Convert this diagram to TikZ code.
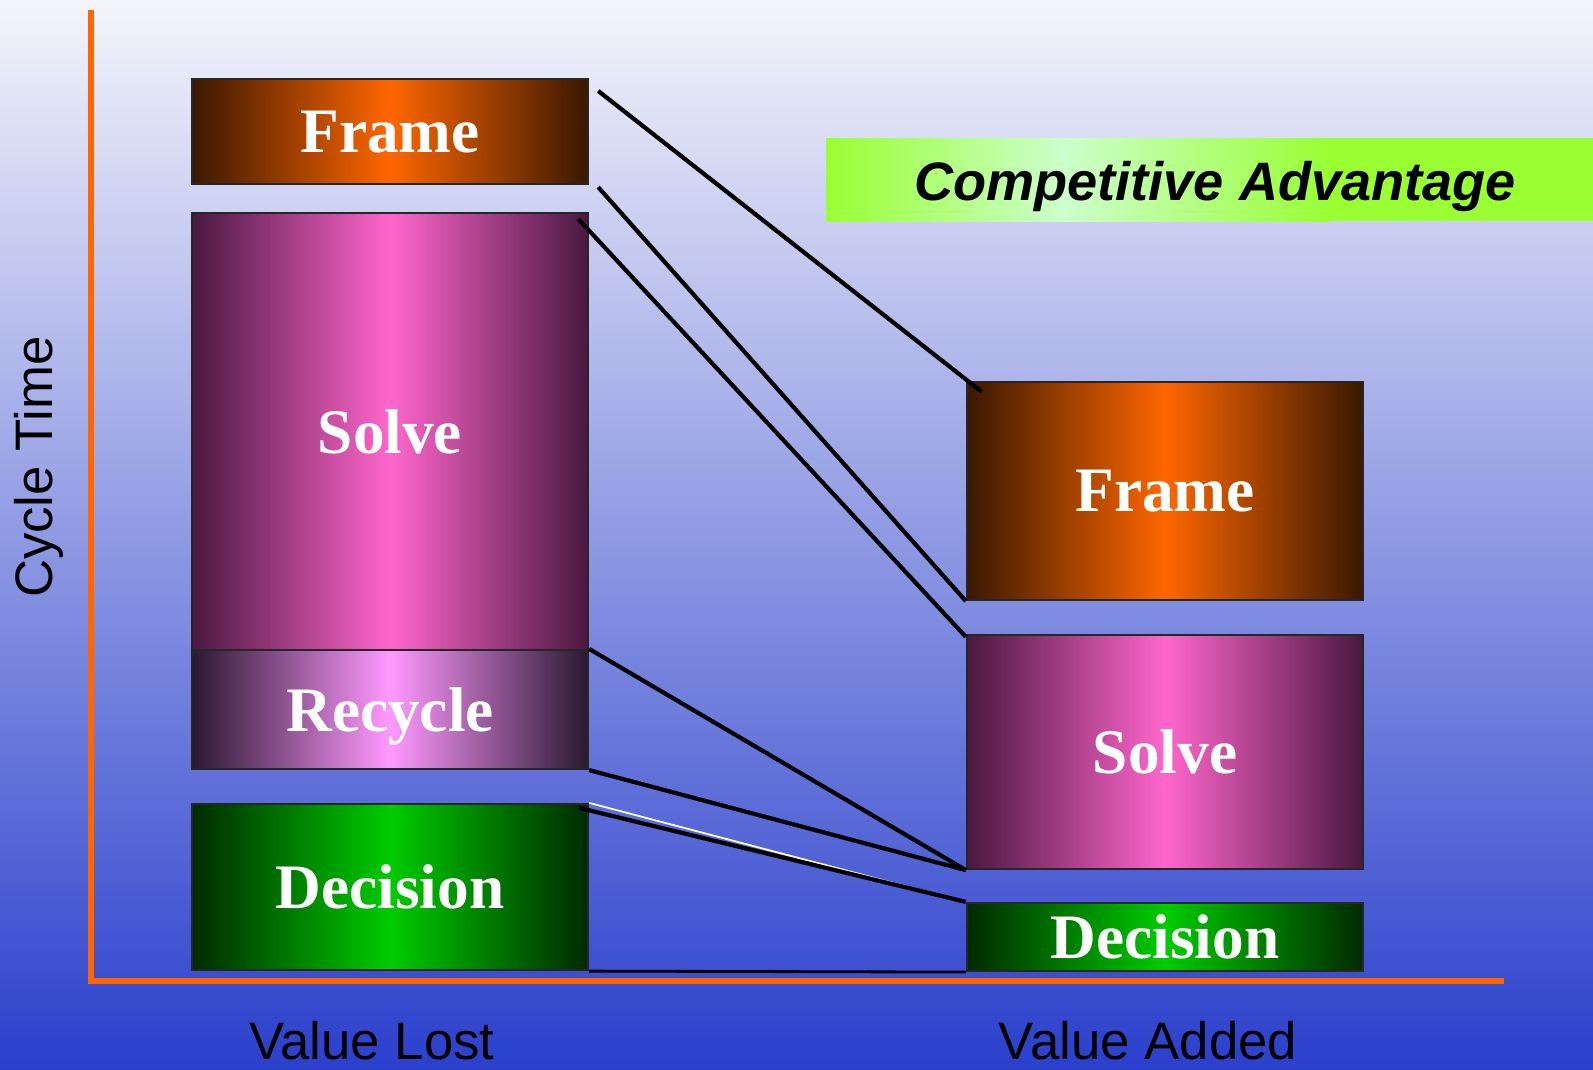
\documentclass[tikz,border=0pt]{standalone}
\usepackage{fontspec}
\setmainfont{Liberation Serif}
\setsansfont{Liberation Sans}
\usetikzlibrary{calc,positioning}

\definecolor{bgtop}{HTML}{F4F5FB}
\definecolor{bgmid}{HTML}{9BA0E0}
\definecolor{bgbot}{HTML}{2A3FCC}
\definecolor{axisorange}{HTML}{FF6600}
\definecolor{frameedge}{HTML}{3A1800}
\definecolor{framemid}{HTML}{FF6600}
\definecolor{solveedge}{HTML}{4A1840}
\definecolor{solvemid}{HTML}{FF66CC}
\definecolor{recycleedge}{HTML}{2A1830}
\definecolor{recyclemid}{HTML}{FF99FF}
\definecolor{decedge}{HTML}{002A00}
\definecolor{decmid}{HTML}{00CC00}
\definecolor{lime}{HTML}{99FF33}
\definecolor{palegreen}{HTML}{CCFFCC}

\begin{document}
\begin{tikzpicture}[x=0.01cm,y=-0.01cm,thick]
    \tikzstyle{box}=[draw=black!85, line width=0.6pt, minimum width=3.96cm, inner sep=0pt, text depth=0pt, text=white, font=\bfseries\fontsize{18}{18}\selectfont]
    \tikzstyle{framebox}=[box, left color=frameedge, right color=frameedge, middle color=framemid]
    \tikzstyle{solvebox}=[box, left color=solveedge, right color=solveedge, middle color=solvemid]
    \tikzstyle{recyclebox}=[box, left color=recycleedge, right color=recycleedge, middle color=recyclemid]
    \tikzstyle{decbox}=[box, left color=decedge, right color=decedge, middle color=decmid]
    \tikzstyle{link}=[line width=1.2pt, black]
    \tikzstyle{axis}=[line width=1.7pt, axisorange]
    \tikzstyle{axislabel}=[font=\sffamily\fontsize{15}{15}\selectfont]

    \useasboundingbox (0,0) rectangle (1593,1069);
    \shade[top color=bgtop, middle color=bgmid, bottom color=bgbot] (0,0) rectangle (1593,1069);

    \shade[left color=lime, right color=palegreen] (826,138) rectangle (1065,221);
    \shade[left color=palegreen, right color=lime] (1065,138) rectangle (1330,221);
    \fill[lime] (1330,138) rectangle (1593,221);
    \node[font=\sffamily\bfseries\itshape\fontsize{15.4}{15.4}\selectfont, anchor=base] (advantage) at (1215,200) {Competitive Advantage};

    \draw[axis] (91,10) -- (91,982);
    \draw[axis] (88,981) -- (1504,981);

    \node[axislabel, rotate=90] (cycle) at (39,467) {Cycle Time};
    \node[axislabel, anchor=base] (lost) at (372,1059) {Value Lost};
    \node[axislabel, anchor=base] (added) at (1148,1059) {Value Added};

    \node[framebox, minimum height=1.05cm]   (frameL)   at (390,131.5) {Frame};
    \node[solvebox, minimum height=4.37cm]   (solveL)   at (390,431.5) {Solve};
    \node[recyclebox, minimum height=1.19cm] (recycleL) at (390,709.5) {Recycle};
    \node[decbox, minimum height=1.66cm]     (decL)     at (390,887)   {Decision};

    \node[framebox, minimum height=2.18cm]   (frameR)   at (1165,491)  {Frame};
    \node[solvebox, minimum height=2.34cm]   (solveR)   at (1165,752)  {Solve};
    \node[decbox, minimum height=0.68cm]     (decR)     at (1165,937)  {Decision};

    \draw[white, line width=0.5pt] (decL.north east) -- (decR.north west);
    \draw[link] ([shift={(9,13)}]frameL.north east) -- ([shift={(16,11)}]frameR.north west);
    \draw[link] ([shift={(9,2)}]frameL.south east) -- (frameR.south west);
    \draw[link] ([shift={(-11,7)}]solveL.north east) -- ([shift={(0,3)}]solveR.north west);
    \draw[link] (recycleL.north east) -- (solveR.south west);
    \draw[link] (recycleL.south east) -- (solveR.south west);
    \draw[link] ([shift={(-10,5)}]decL.north east) -- (decR.north west);
    \draw[black, line width=0.8pt] (decL.south east) -- (decR.south west);
\end{tikzpicture}
\end{document}
